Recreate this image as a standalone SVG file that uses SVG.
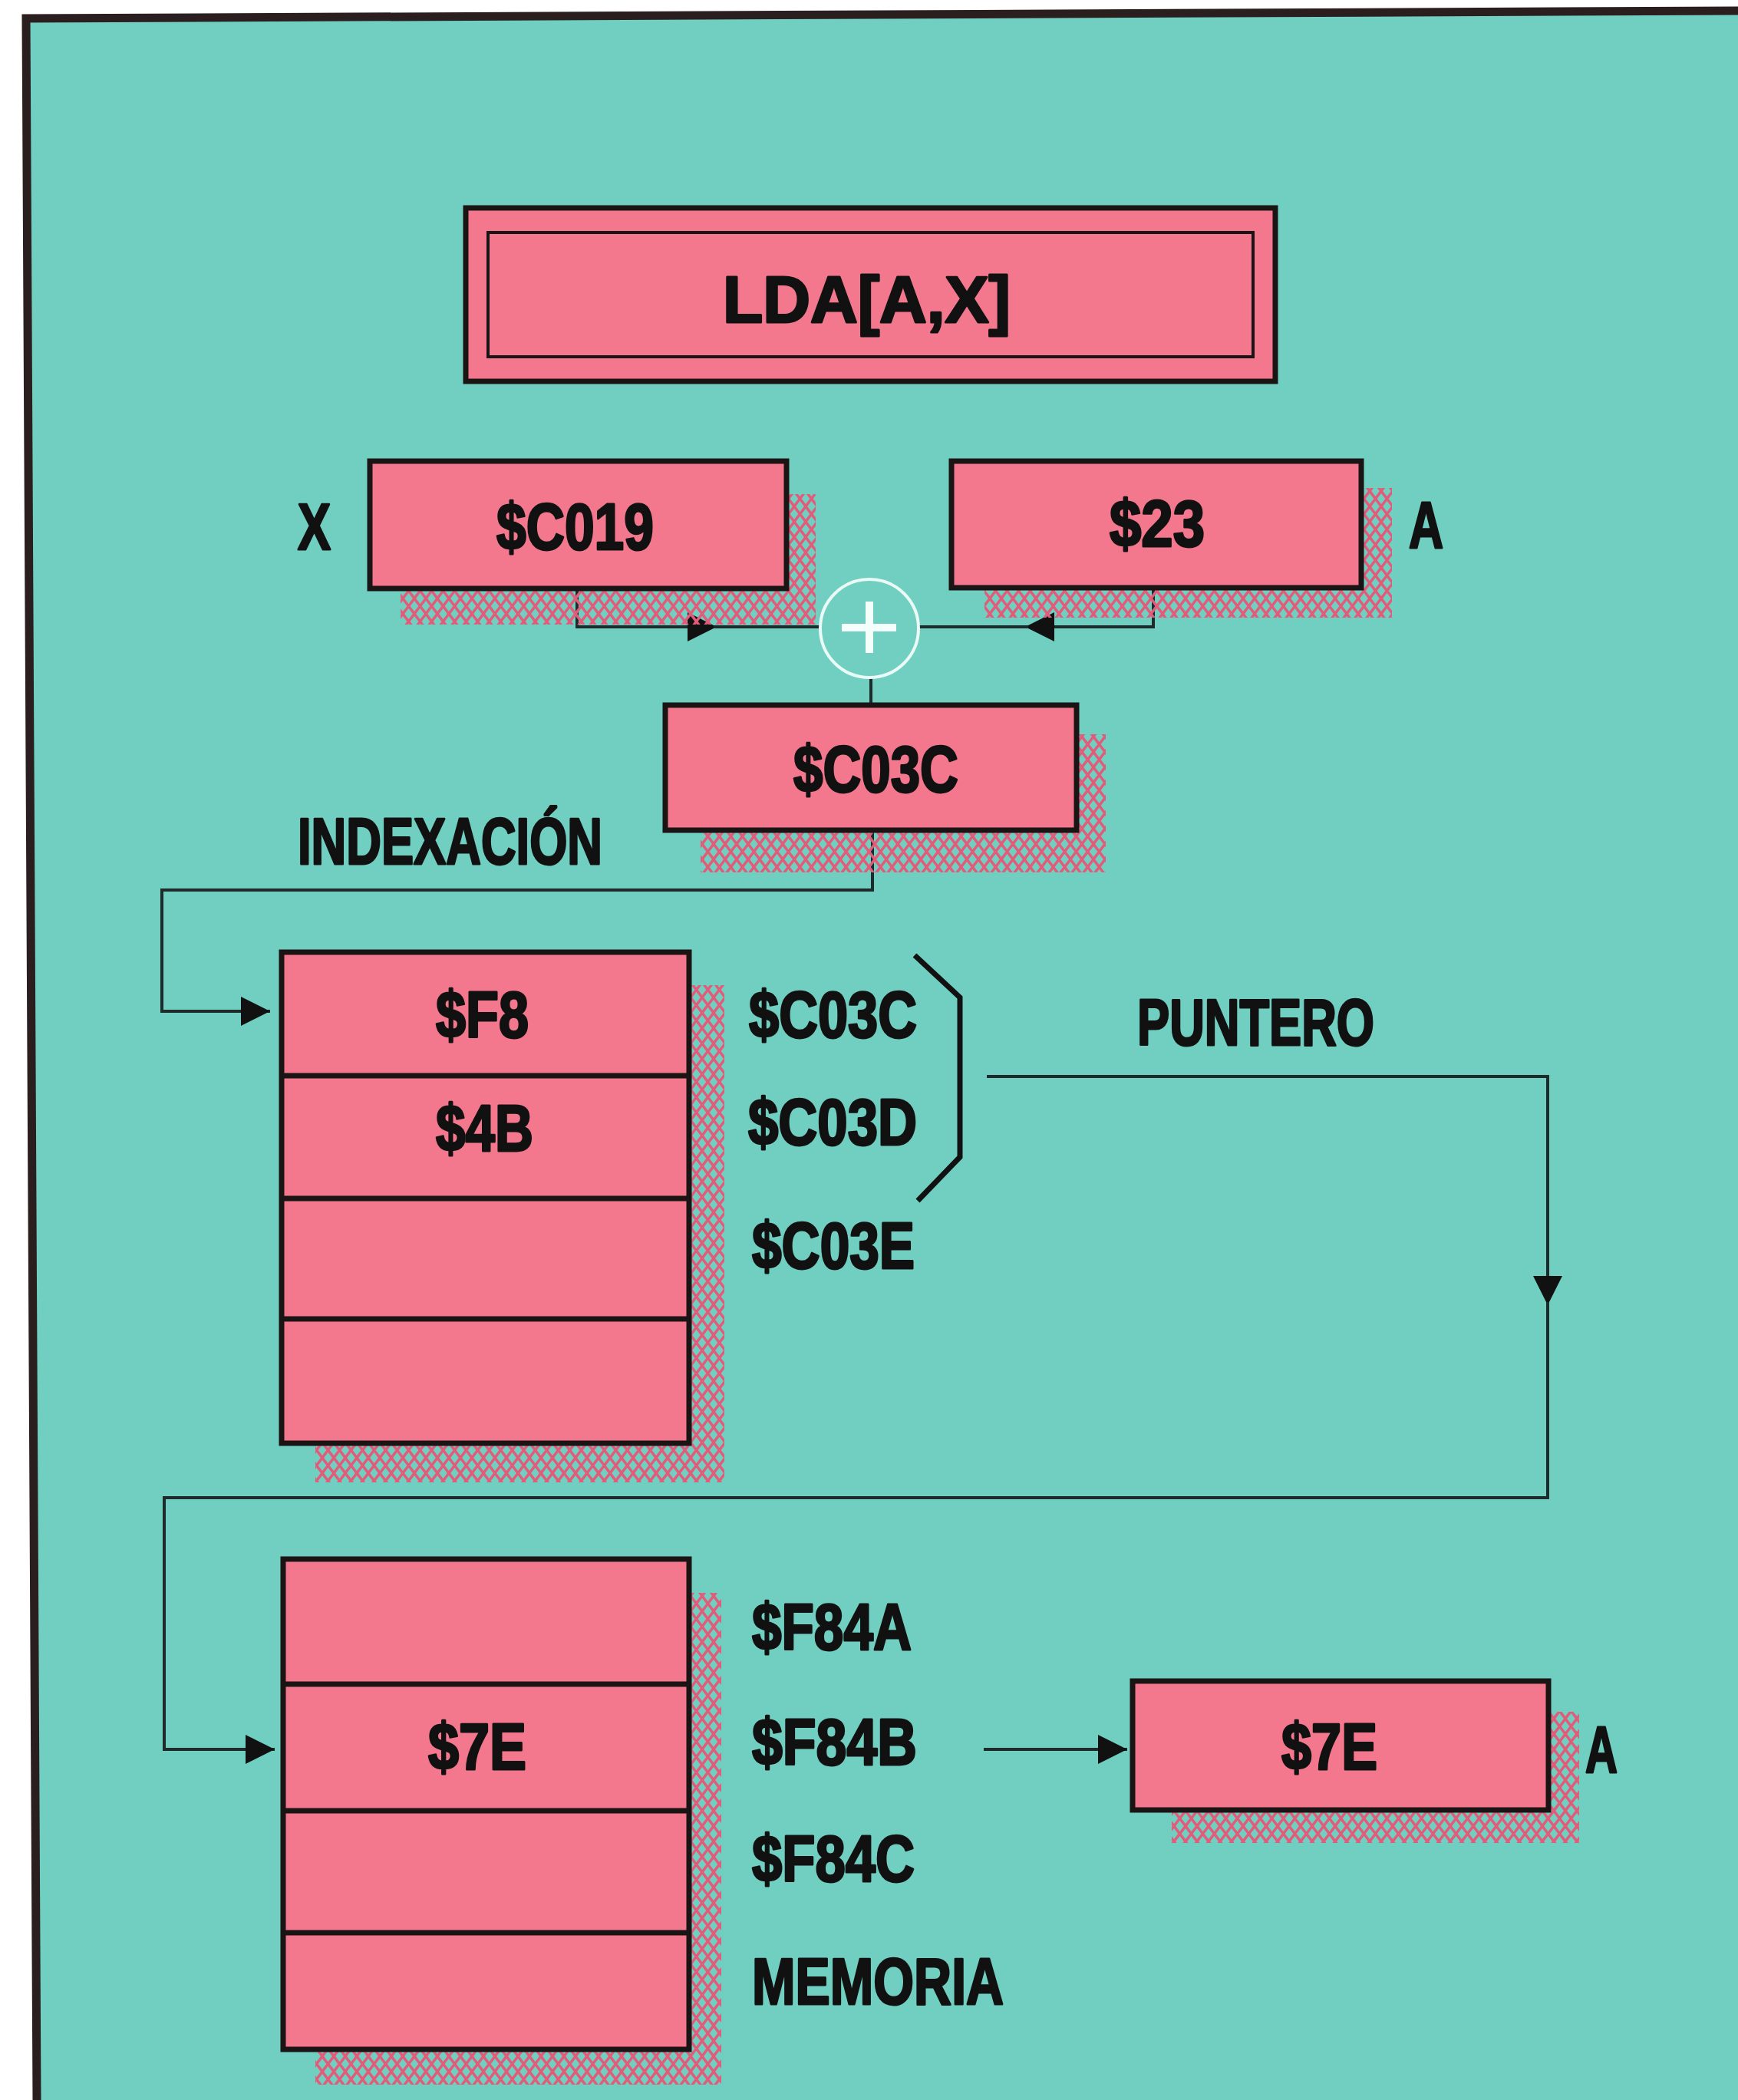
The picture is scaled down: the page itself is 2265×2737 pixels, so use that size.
<svg xmlns="http://www.w3.org/2000/svg" width="2265" height="2737" viewBox="0 0 2265 2737">
<style>
.bg{fill:#70cfc1}
.box{fill:#f3788d;stroke:#1a1414;stroke-width:7}
.thin{fill:none;stroke:#1a1414;stroke-width:4}
.shadow{fill:url(#hatch)}
.cn{fill:none;stroke:#1f2a2a;stroke-width:4}
.t{font-family:"Liberation Sans",Arial,sans-serif;font-weight:bold;fill:#111;stroke:#111;stroke-width:3;stroke-linejoin:round;font-size:86px}
</style>
<defs>
<pattern id="hatch" patternUnits="userSpaceOnUse" width="15" height="20">
<path d="M0,0 L7.5,10 L0,20 M15,0 L7.5,10 L15,20" fill="none" stroke="#e25c7a" stroke-width="3.5"/>
</pattern>
<marker id="ah" markerUnits="userSpaceOnUse" markerWidth="40" markerHeight="40" refX="38" refY="19" orient="auto">
<path d="M0,0 L38,19 L0,38 z" fill="#111"/>
</marker>
</defs>
<rect x="0" y="0" width="2265" height="2737" fill="#ffffff"/>
<polygon class="bg" points="34,24 2265,14 2265,2737 48,2737"/>
<path d="M48,2737 L34,24 L2265,14" fill="none" stroke="#2a1e1e" stroke-width="11"/>

<g id="connectors">
<path class="cn" d="M752,767 V817 H934" marker-end="url(#ah)"/>
<path class="cn" d="M930,817 H1069"/>
<path class="cn" d="M1503,766 V817 H1336" marker-end="url(#ah)"/>
<path class="cn" d="M1340,817 H1197"/>
<path class="cn" d="M1135,883 V919"/>
<path class="cn" d="M1137,1082 V1160 H211 V1318 H352" marker-end="url(#ah)"/>
<path class="cn" d="M1286,1403 H2017 V1701" marker-end="url(#ah)"/>
<path class="cn" d="M2017,1697 V1952 H214 V2280 H358" marker-end="url(#ah)"/>
<path class="cn" d="M1282,2280 H1469" marker-end="url(#ah)"/>
<path d="M1192,1245 L1251,1300 V1508 L1196,1565" fill="none" stroke="#111" stroke-width="7"/>
</g>

<g id="lda">
<rect class="box" x="607" y="271" width="1055" height="226" stroke-width="8"/>
<rect class="thin" x="636" y="303" width="997" height="162"/>
<text class="t" x="942" y="420" font-size="114" textLength="375" lengthAdjust="spacingAndGlyphs">LDA[A,X]</text>
</g>

<g id="regX">
<rect class="shadow" x="522" y="644" width="541" height="170"/>
<rect class="box" x="482" y="601" width="543" height="166"/>
<text class="t" x="647" y="716" textLength="205" lengthAdjust="spacingAndGlyphs">$C019</text>
<text class="t" x="388" y="716" textLength="43" lengthAdjust="spacingAndGlyphs">X</text>
</g>

<g id="regA">
<rect class="shadow" x="1283" y="636" width="531" height="169"/>
<rect class="box" x="1240" y="601" width="534" height="165"/>
<text class="t" x="1446" y="712" textLength="124" lengthAdjust="spacingAndGlyphs">$23</text>
<text class="t" x="1836" y="714" textLength="45" lengthAdjust="spacingAndGlyphs">A</text>
</g>

<g id="adder">
<circle cx="1133" cy="819" r="64" fill="none" stroke="#eafaf6" stroke-width="4"/>
<path d="M1097,818 H1168 M1133,784 V851" stroke="#f4fffc" stroke-width="10"/>
</g>

<g id="sum">
<rect class="shadow" x="913" y="957" width="528" height="180"/>
<rect class="box" x="867" y="919" width="536" height="163"/>
<text class="t" x="1034" y="1032" textLength="215" lengthAdjust="spacingAndGlyphs">$C03C</text>
<text class="t" x="388" y="1126" textLength="397" lengthAdjust="spacingAndGlyphs">INDEXACIÓN</text>
</g>

<g id="pointerTable">
<rect class="shadow" x="411" y="1284" width="533" height="648"/>
<rect class="box" x="367" y="1241" width="531" height="640"/>
<path d="M367,1402 H898 M367,1562 H898 M367,1719 H898" stroke="#1a1414" stroke-width="7"/>
<text class="t" x="568" y="1352" font-size="80" textLength="121" lengthAdjust="spacingAndGlyphs">$F8</text>
<text class="t" x="568" y="1500" font-size="80" textLength="127" lengthAdjust="spacingAndGlyphs">$4B</text>
<text class="t" x="976" y="1352" textLength="219" lengthAdjust="spacingAndGlyphs">$C03C</text>
<text class="t" x="975" y="1492" textLength="220" lengthAdjust="spacingAndGlyphs">$C03D</text>
<text class="t" x="980" y="1653" textLength="212" lengthAdjust="spacingAndGlyphs">$C03E</text>
<text class="t" x="1482" y="1362" textLength="309" lengthAdjust="spacingAndGlyphs">PUNTERO</text>
</g>

<g id="memory">
<rect class="shadow" x="411" y="2076" width="529" height="641"/>
<rect class="box" x="369" y="2032" width="529" height="639"/>
<path d="M369,2195 H898 M369,2360 H898 M369,2519 H898" stroke="#1a1414" stroke-width="7"/>
<text class="t" x="558" y="2306" textLength="128" lengthAdjust="spacingAndGlyphs">$7E</text>
<text class="t" x="980" y="2150" textLength="208" lengthAdjust="spacingAndGlyphs">$F84A</text>
<text class="t" x="980" y="2300" textLength="215" lengthAdjust="spacingAndGlyphs">$F84B</text>
<text class="t" x="980" y="2452" textLength="212" lengthAdjust="spacingAndGlyphs">$F84C</text>
<text class="t" x="980" y="2612" textLength="328" lengthAdjust="spacingAndGlyphs">MEMORIA</text>
</g>

<g id="result">
<rect class="shadow" x="1527" y="2231" width="531" height="171"/>
<rect class="box" x="1476" y="2191" width="542" height="168"/>
<text class="t" x="1670" y="2306" textLength="125" lengthAdjust="spacingAndGlyphs">$7E</text>
<text class="t" x="2066" y="2310" textLength="42" lengthAdjust="spacingAndGlyphs">A</text>
</g>
</svg>
